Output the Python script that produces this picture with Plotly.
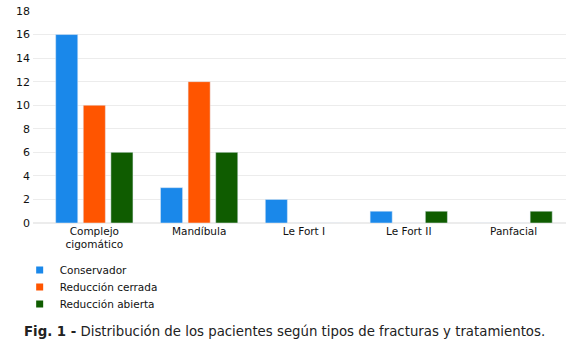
import plotly.graph_objects as go

categories = ["Complejo<br>cigomático", "Mandíbula", "Le Fort I", "Le Fort II", "Panfacial"]
series_names = ["Conservador", "Reducción cerrada", "Reducción abierta"]
conservador = [16, 3, 2, 1, 0]
reduccion_cerrada = [10, 12, 0, 0, 0]
reduccion_abierta = [6, 6, 0, 1, 1]
colors = ["#1a88ea", "#ff5500", "#0f5c00"]
y_ticks = [0, 2, 4, 6, 8, 10, 12, 14, 16, 18]
caption = "<b>Fig. 1 -</b> Distribución de los pacientes según tipos de fracturas y tratamientos."

FONT = "DejaVu Sans"
fig = go.Figure()
for name, vals, col in zip(series_names, [conservador, reduccion_cerrada, reduccion_abierta], colors):
    fig.add_trace(go.Bar(x=categories, y=vals, name=name, marker_color=col,
                         showlegend=False, hoverinfo="skip"))

legend_ids = ["legend", "legend2", "legend3"]
legend_y = [-0.222, -0.302, -0.382]
for name, col, lid in zip(series_names, colors, legend_ids):
    fig.add_trace(go.Scatter(x=[None], y=[None], mode="markers", name=name, legend=lid,
                             marker=dict(symbol="square", size=7, color=col)))

legend_common = dict(orientation="v", x=-0.025, xanchor="left", yanchor="middle",
                     font=dict(size=10.5, color="#111"), bgcolor="rgba(0,0,0,0)")

fig.update_layout(
    width=566, height=351,
    margin=dict(l=33, r=0, t=11, b=128),
    paper_bgcolor="white", plot_bgcolor="white",
    barmode="group", bargap=0.21, bargroupgap=0.2,
    font=dict(family=FONT, size=10.5, color="#111"),
    xaxis=dict(showgrid=False, showline=False, ticks="", tickfont=dict(size=10.5),
               range=[-0.585, 4.5]),
    yaxis=dict(range=[0, 18], tickvals=y_ticks, showgrid=True, gridcolor="#ececec",
               zeroline=True, zerolinecolor="#ececec", ticks="", tickfont=dict(size=11),
               ticklabelstandoff=2),
    legend=dict(y=legend_y[0], **legend_common),
    legend2=dict(y=legend_y[1], **legend_common),
    legend3=dict(y=legend_y[2], **legend_common),
    annotations=[dict(text=caption, xref="paper", yref="paper", x=-0.02, y=-0.514,
                      xanchor="left", yanchor="middle", showarrow=False,
                      font=dict(size=13.3, color="#222"))],
)
fig.write_html("out.html")
